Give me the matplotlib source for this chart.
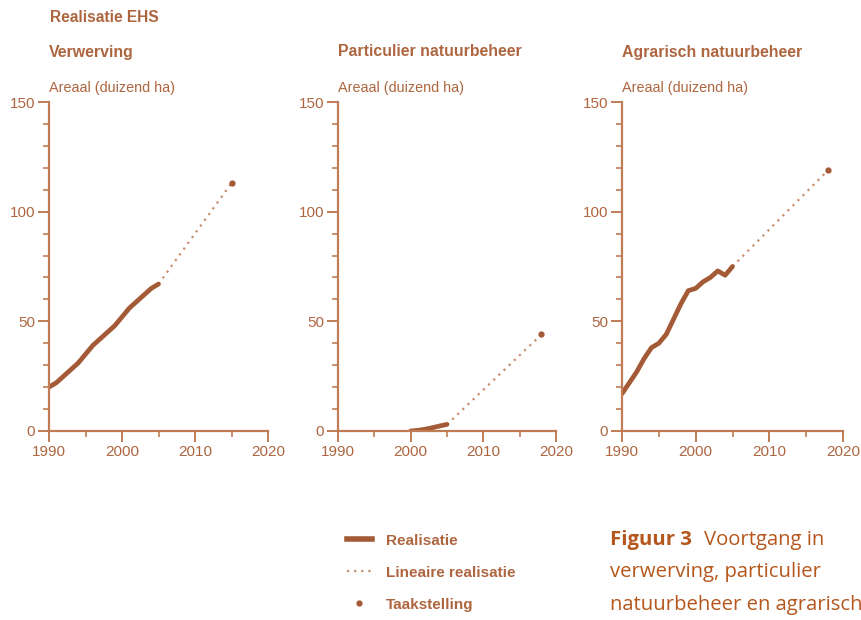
import matplotlib.pyplot as plt
from matplotlib.lines import Line2D
from matplotlib.ticker import MultipleLocator

# ---- data (thousand ha) ----
verw_years = [1990, 1991, 1992, 1993, 1994, 1995, 1996, 1997, 1998, 1999, 2000, 2001, 2002, 2003, 2004, 2005]
verw_vals = [20, 22, 25, 28, 31, 35, 39, 42, 45, 48, 52, 56, 59, 62, 65, 67]
verw_target = (2015, 113)

part_years = [2000, 2001, 2002, 2003, 2004, 2005]
part_vals = [0, 0.3, 0.8, 1.5, 2.3, 3]
part_target = (2018, 44)

agr_years = [1990, 1991, 1992, 1993, 1994, 1995, 1996, 1997, 1998, 1999, 2000, 2001, 2002, 2003, 2004, 2005]
agr_vals = [17, 22, 27, 33, 38, 40, 44, 51, 58, 64, 65, 68, 70, 73, 71, 75]
agr_target = (2018, 119)

panel_titles = ["Verwerving", "Particulier natuurbeheer", "Agrarisch natuurbeheer"]
legend_labels = ["Realisatie", "Lineaire realisatie", "Taakstelling"]

LINE = "#a45a36"
DOT = "#c98e6e"
AXC = "#c07d55"
TXT = "#ad6640"
CAP = "#b5561c"

plt.rcParams["font.family"] = ["Liberation Sans", "DejaVu Sans"]

fig = plt.figure(figsize=(8.61, 6.2), dpi=100)

# axes positions in pixels (left, right)
W, H = 861, 620
panels = [
    (49, 268, verw_years, verw_vals, verw_target),
    (338, 556, part_years, part_vals, part_target),
    (622, 843, agr_years, agr_vals, agr_target),
]
top_px, bot_px = 102, 431

for i, (l, r, yrs, vals, tgt) in enumerate(panels):
    ax = fig.add_axes([l / W, 1 - bot_px / H, (r - l) / W, (bot_px - top_px) / H])
    ax.plot([yrs[-1], tgt[0]], [vals[-1], tgt[1]], color=DOT, lw=1.6,
            linestyle=(0, (1, 2.2)), solid_capstyle="round")
    ax.plot(yrs, vals, color=LINE, lw=3.4, solid_capstyle="round", solid_joinstyle="round")
    ax.plot([tgt[0]], [tgt[1]], "o", color=LINE, ms=3.5)
    ax.set_xlim(1990, 2020)
    ax.set_ylim(0, 150)
    ax.set_xticks([1990, 2000, 2010, 2020])
    ax.set_yticks([0, 50, 100, 150])
    ax.xaxis.set_minor_locator(MultipleLocator(5))
    ax.yaxis.set_minor_locator(MultipleLocator(10))
    for s in ["top", "right"]:
        ax.spines[s].set_visible(False)
    for s in ["left", "bottom"]:
        ax.spines[s].set_color(AXC)
        ax.spines[s].set_linewidth(1.6)
    ax.tick_params(which="major", direction="out", length=8, width=1.4, color=AXC,
                   labelcolor=TXT, labelsize=11, pad=2)
    ax.tick_params(which="minor", direction="out", length=4, width=1.2, color=AXC)
    ax.patch.set_visible(False)
    fig.text(l / W, 1 - 52 / H, panel_titles[i], color=TXT, fontsize=11.4,
             fontweight="bold", va="center", ha="left")
    fig.text(l / W, 1 - 88 / H, "Areaal (duizend ha)", color=TXT, fontsize=10.4,
             va="center", ha="left")

fig.text(50 / W, 1 - 18 / H, "Realisatie EHS", color=TXT, fontsize=11.2,
         fontweight="bold", va="center", ha="left")

# legend
handles = [
    Line2D([], [], color=LINE, lw=4),
    Line2D([], [], color=DOT, lw=1.6, linestyle=(0, (1, 2.2))),
    Line2D([], [], color=LINE, lw=0, marker="o", ms=3.5),
]
leg = fig.legend(handles, legend_labels, loc="upper left",
                 bbox_to_anchor=(333 / W, 1 - 520 / H), frameon=False,
                 fontsize=11, labelspacing=1.18, handlelength=1.65, handletextpad=0.9)
for t in leg.get_texts():
    t.set_color(TXT)
    t.set_fontweight("bold")

# caption (runs off the right edge, as in the source page)
cap_font = ["Open Sans", "DejaVu Sans"]
fig.text(610 / W, 1 - 540 / H, "Figuur 3", color=CAP, fontsize=14.6,
         fontweight="bold", va="center", ha="left", family=cap_font)
fig.text(704 / W, 1 - 540 / H, "Voortgang in", color=CAP, fontsize=14.6,
         va="center", ha="left", family=cap_font)
fig.text(610 / W, 1 - 572 / H, "verwerving, particulier", color=CAP, fontsize=14.6,
         va="center", ha="left", family=cap_font)
fig.text(610 / W, 1 - 605 / H, "natuurbeheer en agrarisch", color=CAP, fontsize=14.6,
         va="center", ha="left", family=cap_font)

fig.savefig("out.png", dpi=100)
